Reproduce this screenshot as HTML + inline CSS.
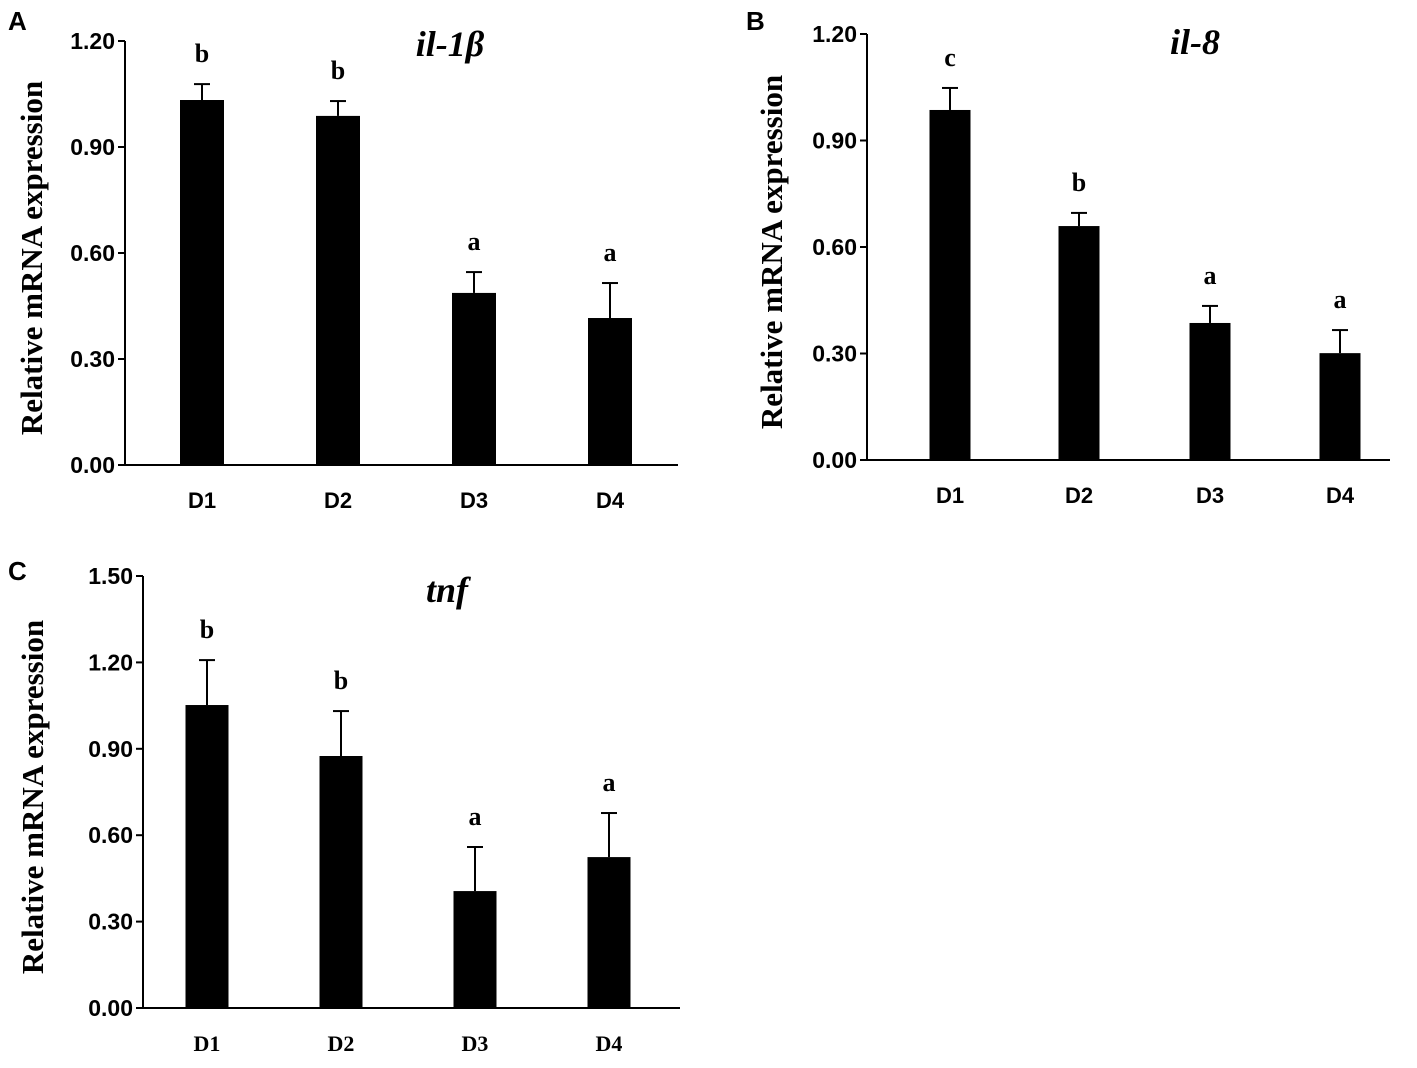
<!DOCTYPE html>
<html><head><meta charset="utf-8"><style>
body{margin:0;background:#fff;}
svg{display:block;}
</style></head><body>
<svg id="chart" width="1417" height="1068" xmlns="http://www.w3.org/2000/svg"></svg>
<script>
const categories = ["D1","D2","D3","D4"];
const ilbValues = [1.033, 0.988, 0.487, 0.416];
const ilbErrors = [0.045, 0.042, 0.059, 0.099];
const ilbLetters = ["b","b","a","a"];
const il8Values = [0.986, 0.659, 0.386, 0.301];
const il8Errors = [0.062, 0.037, 0.048, 0.065];
const il8Letters = ["c","b","a","a"];
const tnfValues = [1.052, 0.875, 0.406, 0.524];
const tnfErrors = [0.156, 0.156, 0.153, 0.153];
const tnfLetters = ["b","b","a","a"];
const ticksA = [0, 0.3, 0.6, 0.9, 1.2];
const ticksC = [0, 0.3, 0.6, 0.9, 1.2, 1.5];

const NS = "http://www.w3.org/2000/svg";
const svg = document.getElementById("chart");
function mk(tag, attrs, parent, text){
  const e = document.createElementNS(NS, tag);
  for (const k in attrs) e.setAttribute(k, attrs[k]);
  if (text !== undefined) e.textContent = text;
  (parent||svg).appendChild(e);
  return e;
}

function panel(cfg){
  const g = mk("g", {});
  
  
  const y = v => cfg.y0 - (v / cfg.max) * (cfg.y0 - cfg.yTop);
  const x = i => cfg.centers[i];
  const ya = mk("line", {x1:cfg.x0, x2:cfg.x0, y1:cfg.yTop, y2:cfg.y0+1, stroke:"#000","stroke-width":2}, g);
  
  
  const xa = mk("line", {x1:cfg.x0-1, x2:cfg.x1, y1:cfg.y0, y2:cfg.y0, stroke:"#000","stroke-width":2}, g);
  
  
  cfg.ticks.forEach(t => {
    mk("line", {x1:cfg.x0-7, x2:cfg.x0, y1:y(t), y2:y(t), stroke:"#000","stroke-width":2}, g);
    const tl = mk("text", {x:cfg.x0-10, y:y(t)+8, "text-anchor":"end", "font-family":cfg.tickFont, "font-weight":"bold", "font-size":23}, g, t.toFixed(2));
    
    
  });
  const yt = mk("text", {x:0, y:0, transform:`translate(${cfg.titleAxisX},${(cfg.yTop+cfg.y0)/2+5}) rotate(-90)`, "text-anchor":"middle", "font-family":"Liberation Serif, serif", "font-weight":"bold", "font-size":31}, g, "Relative mRNA expression");
  
  
  cfg.values.forEach((v, i) => {
    const cx = x(i);
    const ey = y(v + cfg.errors[i]);
    const e1 = mk("line", {x1:cx, x2:cx, y1:ey, y2:y(v), stroke:"#000","stroke-width":2}, g);
    
    
    mk("line", {x1:cx-8, x2:cx+8, y1:ey, y2:ey, stroke:"#000","stroke-width":2}, g);
    const b = mk("rect", {x:cx-cfg.bw/2, y:y(v), width:cfg.bw, height:cfg.y0-y(v), fill:"#000"}, g);
    
    
    const lt = mk("text", {x:cx, y:ey-22, "text-anchor":"middle", "font-family":"Liberation Serif, serif", "font-weight":"bold", "font-size":26}, g, cfg.letters[i]);
    
    
    const cl = mk("text", {x:cx, y:cfg.y0+43, "text-anchor":"middle", "font-family":cfg.catFont, "font-weight":"bold", "font-size":22}, g, categories[i]);
    
    
  });
  const ti = mk("text", {x:cfg.titleX, y:cfg.titleY, "text-anchor":"middle", "font-family":"Liberation Serif, serif", "font-weight":"bold", "font-style":"italic", "font-size":36}, g, cfg.title);
  
  
  const pl = mk("text", {x:cfg.labX, y:cfg.labY, "font-family":"Liberation Sans, sans-serif", "font-weight":"bold", "font-size":26}, g, cfg.panel);
  
  
}

panel({name:"panel-a", panel:"A", labX:8, labY:30, title:"il-1β", titleX:450, titleY:56, titleAxisX:42,
  x0:125, x1:678, y0:465, yTop:41, max:1.2, ticks:ticksA, centers:[202,338,474,610], bw:44,
  values:ilbValues, errors:ilbErrors, letters:ilbLetters, tickFont:"Liberation Sans, sans-serif", catFont:"Liberation Sans, sans-serif"});
panel({name:"panel-b", panel:"B", labX:746, labY:30, title:"il-8", titleX:1195, titleY:54, titleAxisX:782,
  x0:867, x1:1390, y0:460, yTop:34, max:1.2, ticks:ticksA, centers:[950,1079,1210,1340], bw:41,
  values:il8Values, errors:il8Errors, letters:il8Letters, tickFont:"Liberation Sans, sans-serif", catFont:"Liberation Sans, sans-serif"});
panel({name:"panel-c", panel:"C", labX:8, labY:580, title:"tnf", titleX:447, titleY:602, titleAxisX:43,
  x0:143, x1:680, y0:1008, yTop:576, max:1.5, ticks:ticksC, centers:[207,341,475,609], bw:43,
  values:tnfValues, errors:tnfErrors, letters:tnfLetters, tickFont:"Liberation Sans, sans-serif", catFont:"Liberation Serif, serif"});
</script>
</body></html>
